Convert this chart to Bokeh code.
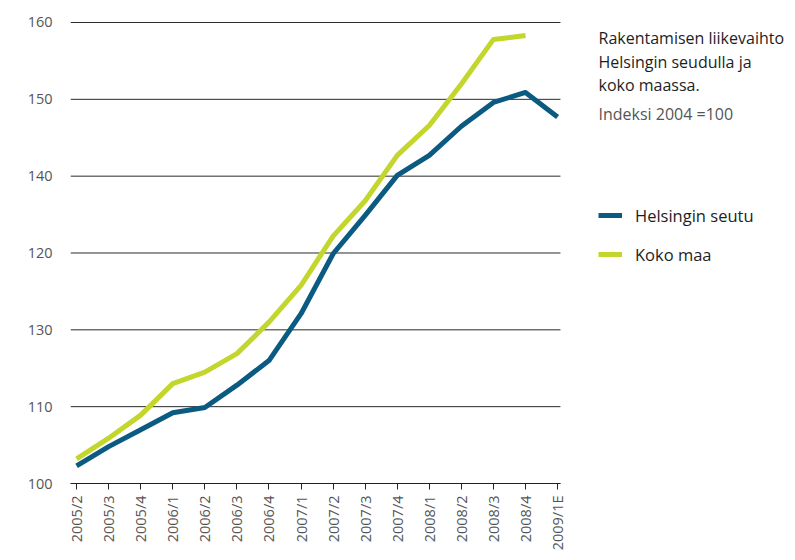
from bokeh.plotting import figure
from bokeh.models import Range1d, FixedTicker, Label, Legend, LegendItem
from bokeh.embed import file_html
from bokeh.resources import INLINE
import math

periods = ["2005/2", "2005/3", "2005/4", "2006/1", "2006/2", "2006/3", "2006/4",
           "2007/1", "2007/2", "2007/3", "2007/4", "2008/1", "2008/2", "2008/3",
           "2008/4", "2009/1E"]
helsinki = [102.3, 104.8, 107.0, 109.2, 109.9, 112.8, 116.0, 122.1, 129.9, 134.9,
            140.1, 142.7, 146.5, 149.6, 150.9, 147.7]
koko_maa = [103.2, 105.9, 108.9, 113.0, 114.5, 116.9, 121.0, 125.8, 132.2, 136.8,
            142.7, 146.6, 152.0, 157.8, 158.3]
y_ticks = [100, 110, 120, 130, 140, 150, 160]
y_tick_labels = ["100", "110", "130", "120", "140", "150", "160"]

title_lines = ["Rakentamisen liikevaihto", "Helsingin seudulla ja", "koko maassa."]
subtitle = "Indeksi 2004 =100"
series_names = ["Helsingin seutu", "Koko maa"]

BLUE = "#0b5a82"
GREEN = "#c3d62b"
FONT = "Open Sans"

X_LO, X_HI = -0.19, 15.09   # extent of the plotting area along x (category index units)

p = figure(width=795, height=560, output_backend="svg", toolbar_location=None,
           x_range=Range1d(X_LO, 22.42), y_range=Range1d(100, 160.13),
           min_border_left=70, min_border_top=21, min_border_right=0,
           min_border_bottom=77)
p.outline_line_color = None
p.background_fill_color = "white"
p.border_fill_color = "white"

# horizontal gridlines limited to the plotting area
p.segment(x0=[X_LO] * len(y_ticks), x1=[X_HI] * len(y_ticks), y0=y_ticks, y1=y_ticks,
          line_color="#2a2a2a", line_width=1)

xs = list(range(len(periods)))
r1 = p.line(xs, helsinki, line_color=BLUE, line_width=5, line_join="round")
r2 = p.line(xs[:len(koko_maa)], koko_maa, line_color=GREEN, line_width=5, line_join="round")

# x axis
p.xaxis.bounds = (X_LO, X_HI)
p.xaxis.ticker = FixedTicker(ticks=xs)
p.xaxis.major_label_overrides = {i: s for i, s in enumerate(periods)}
p.xaxis.major_label_orientation = math.pi / 2
p.xaxis.axis_line_color = "#222222"
p.xaxis.axis_line_width = 1
p.xaxis.major_tick_line_color = "#222222"
p.xaxis.major_tick_out = 6
p.xaxis.major_tick_in = 0
p.xaxis.minor_tick_line_color = None
p.xaxis.major_label_standoff = 6
p.xaxis.major_label_text_font = FONT
p.xaxis.major_label_text_font_size = "14.5px"
p.xaxis.major_label_text_color = "#555555"
p.xgrid.grid_line_color = None

# y axis
p.yaxis.ticker = FixedTicker(ticks=y_ticks)
p.yaxis.major_label_overrides = {t: s for t, s in zip(y_ticks, y_tick_labels)}
p.yaxis.axis_line_color = None
p.yaxis.major_tick_line_color = None
p.yaxis.minor_tick_line_color = None
p.yaxis.major_label_standoff = 12
p.yaxis.major_label_text_font = FONT
p.yaxis.major_label_text_font_size = "14.5px"
p.yaxis.major_label_text_color = "#555555"
p.ygrid.grid_line_color = None

# title block
ys = [446, 422, 399]
for t, yy in zip(title_lines, ys):
    p.add_layout(Label(x=528, y=yy, x_units="screen", y_units="screen", text=t,
                       text_font=FONT, text_font_size="16px", text_color="#1e1e1e",
                       text_baseline="middle", text_align="left"))
p.add_layout(Label(x=528, y=370, x_units="screen", y_units="screen", text=subtitle,
                   text_font=FONT, text_font_size="16px", text_color="#555555",
                   text_baseline="middle", text_align="left"))

legend = Legend(items=[LegendItem(label=series_names[0], renderers=[r1]),
                       LegendItem(label=series_names[1], renderers=[r2])],
                location=(528, 217), orientation="vertical")
legend.border_line_color = None
legend.background_fill_alpha = 0
legend.padding = 0
legend.margin = 0
legend.glyph_width = 24
legend.glyph_height = 24
legend.label_height = 24
legend.spacing = 15
legend.label_standoff = 13
legend.label_text_font = FONT
legend.label_text_font_size = "16.5px"
legend.label_text_color = "#1e1e1e"
p.add_layout(legend)

open("out.html", "w").write(file_html(p, INLINE))
